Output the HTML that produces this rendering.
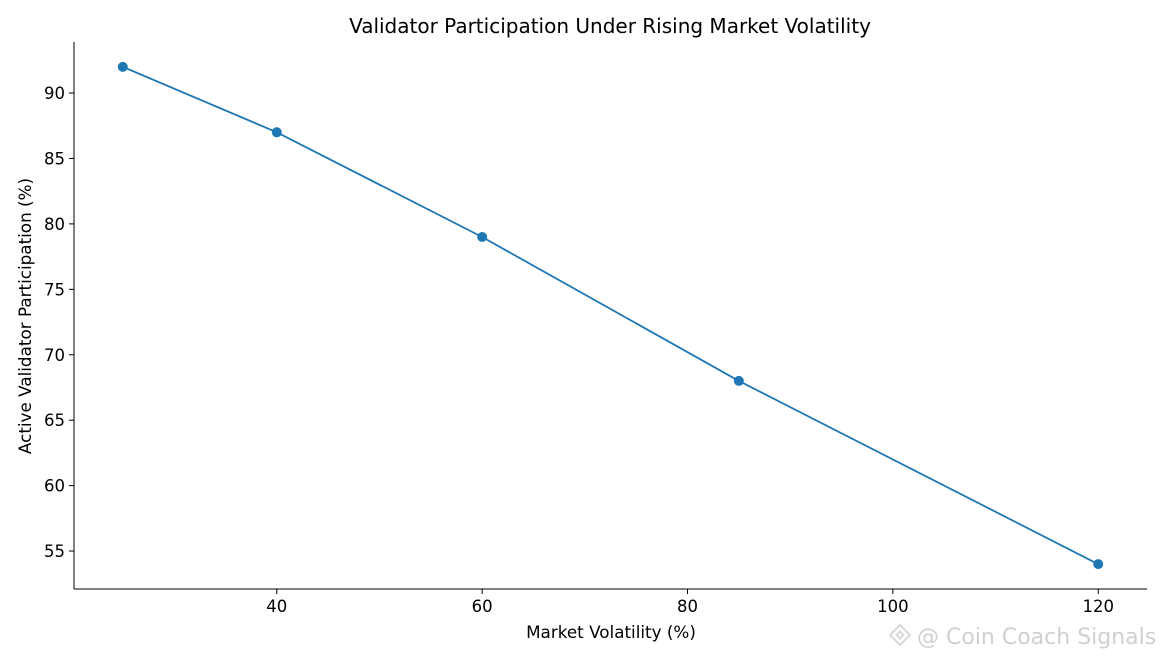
<!DOCTYPE html>
<html><head><meta charset="utf-8"><style>
body{margin:0;background:#fff;}
svg text{font-family:"DejaVu Sans","Liberation Sans",sans-serif;}
</style></head><body>
<svg id="chart" width="1165" height="660" xmlns="http://www.w3.org/2000/svg">
<text x="610" y="33" font-size="20" text-anchor="middle" fill="#000">Validator Participation Under Rising Market Volatility</text>
<g id="axes"></g>
<g id="series"></g>
<text x="611" y="638" font-size="16.8" text-anchor="middle">Market Volatility (%)</text>
<text transform="translate(31,316) rotate(-90)" font-size="16.8" text-anchor="middle">Active Validator Participation (%)</text>
<g opacity="0.55">
<g transform="translate(900,635) rotate(45)" fill="none" stroke="#bbb" stroke-width="2"><rect x="-7" y="-7" width="14" height="14"/><rect x="-2.5" y="-2.5" width="5" height="5"/></g>
<text x="917" y="644" font-size="22" fill="#aaa">@ Coin Coach Signals</text>
</g>
</svg>
<script>
const xValues=[25,40,60,85,120];
const yValues=[92,87,79,68,54];
const xTicks=[40,60,80,100,120];
const yTicks=[55,60,65,70,75,80,85,90];
const L=74,R=1147,T=42,B=589;
const xMin=20.25,xMax=124.75,yMin=52.1,yMax=93.9;
const sx=v=>L+(v-xMin)/(xMax-xMin)*(R-L);
const sy=v=>B-(v-yMin)/(yMax-yMin)*(B-T);
const NS="http://www.w3.org/2000/svg";
const ax=document.getElementById('axes'),se=document.getElementById('series');
function mk(tag,attrs,parent){const e=document.createElementNS(NS,tag);for(const k in attrs)e.setAttribute(k,attrs[k]);parent.appendChild(e);return e;}
let e=mk('line',{x1:L,y1:T,x2:L,y2:B,stroke:'#000','stroke-width':1},ax);


e=mk('line',{x1:L,y1:B,x2:R,y2:B,stroke:'#000','stroke-width':1},ax);


xTicks.forEach(t=>{const x=sx(t);
 let l=mk('line',{x1:x,y1:B,x2:x,y2:B+5,stroke:'#000'},ax);
 
 
 let tx=mk('text',{x:x,y:B+23,'font-size':16.5,'text-anchor':'middle'},ax);tx.textContent=t;
 
 });
yTicks.forEach(t=>{const y=sy(t);
 let l=mk('line',{x1:L-5,y1:y,x2:L,y2:y,stroke:'#000'},ax);
 
 
 let tx=mk('text',{x:L-9,y:y+6,'font-size':16.5,'text-anchor':'end'},ax);tx.textContent=t;
 
 });
const pts=xValues.map((v,i)=>sx(v)+','+sy(yValues[i])).join(' ');
e=mk('polyline',{points:pts,fill:'none',stroke:'#1f77b4','stroke-width':1.8},se);


xValues.forEach((v,i)=>{let c=mk('circle',{cx:sx(v),cy:sy(yValues[i]),r:5,fill:'#1f77b4'},se);
 
 });
</script>
</body></html>
